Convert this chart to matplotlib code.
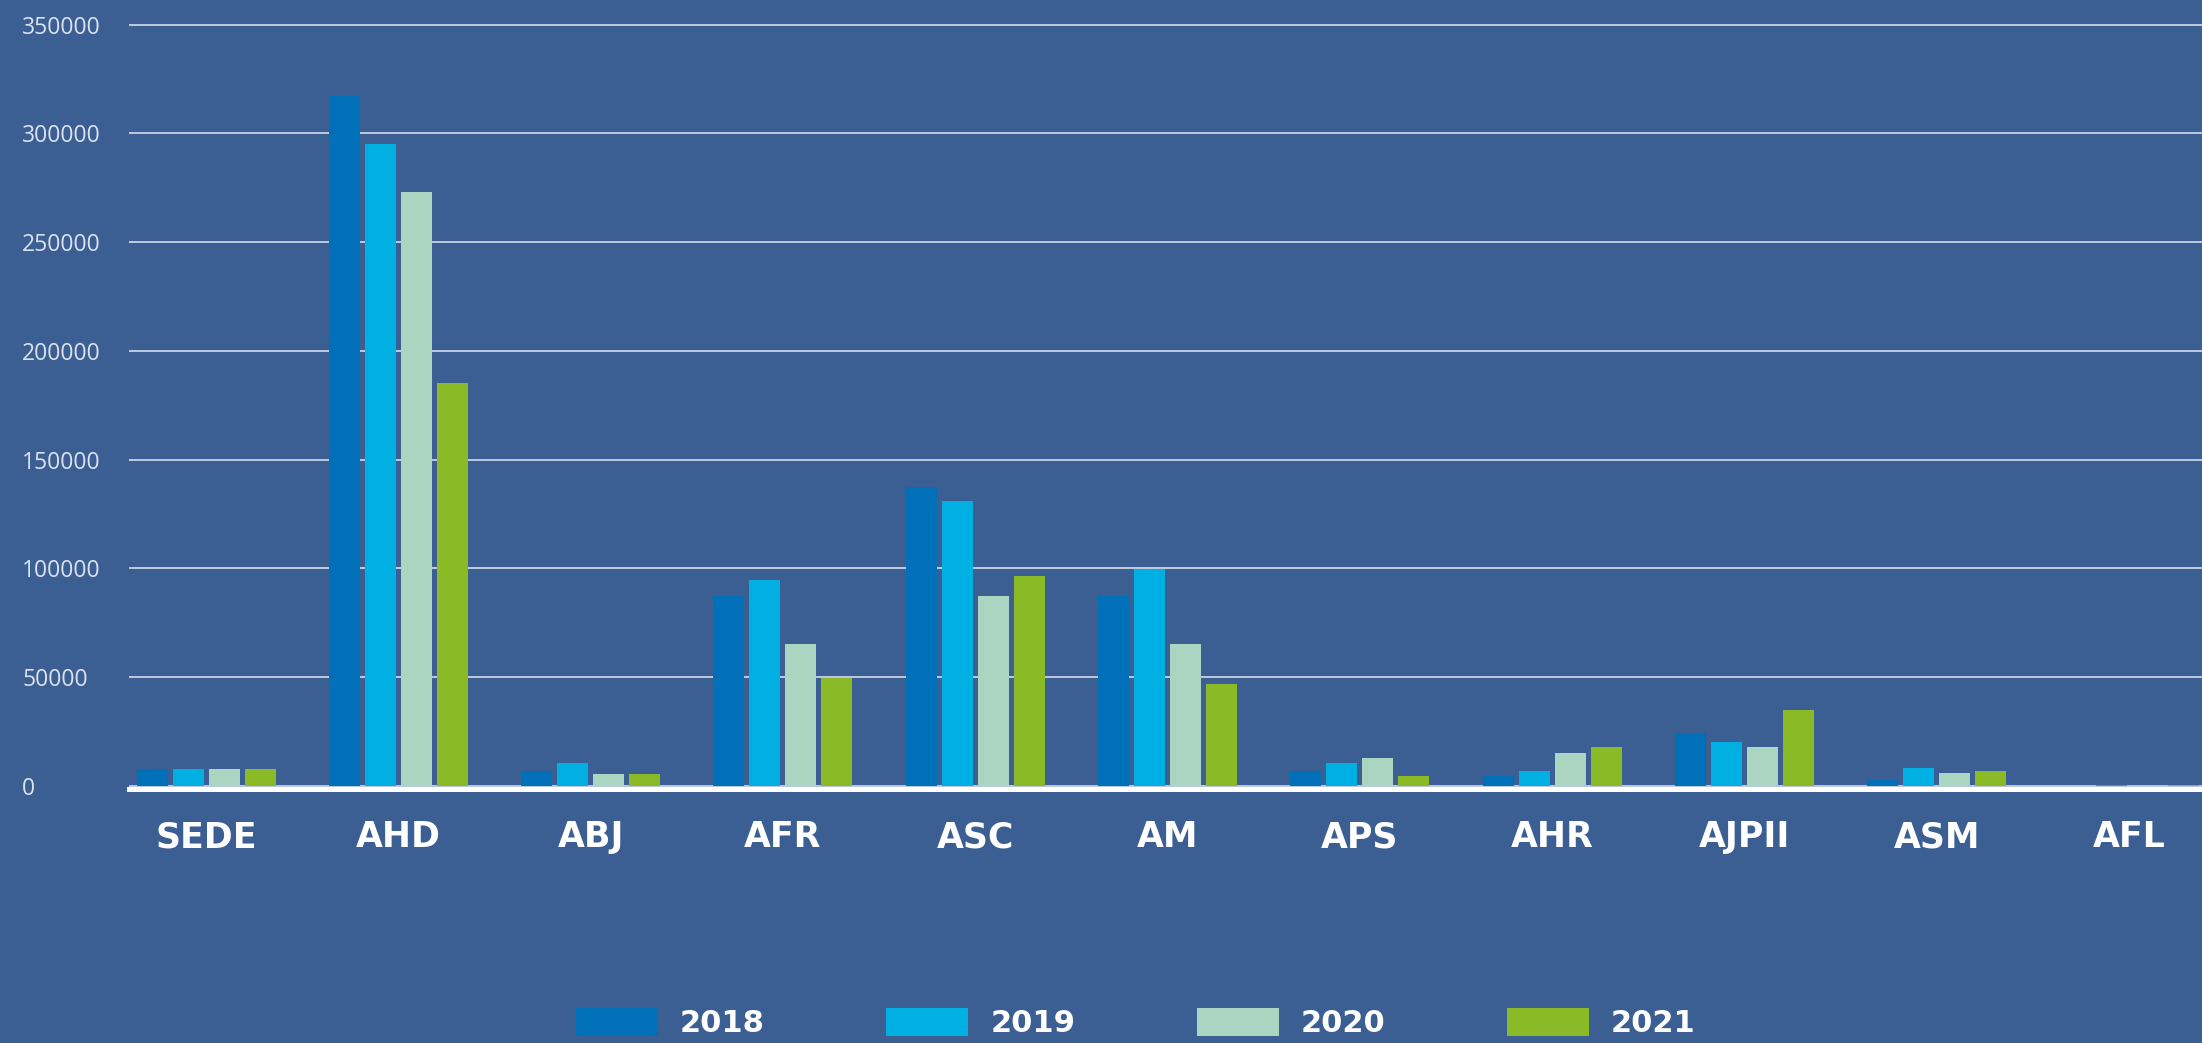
import matplotlib
matplotlib.use("Agg")
import matplotlib.pyplot as plt
import numpy as np

categories = ["SEDE", "AHD", "ABJ", "AFR", "ASC", "AM", "APS", "AHR", "AJPII", "ASM", "AFL"]
years = ["2018", "2019", "2020", "2021"]
v2018 = [7800, 317300, 6900, 87300, 137300, 87300, 6900, 4600, 24400, 2800, 200]
v2019 = [7800, 295000, 10600, 94700, 131000, 99600, 10600, 6900, 20200, 8300, 500]
v2020 = [7800, 273000, 5500, 65300, 87300, 65300, 12900, 15200, 17900, 6000, 600]
v2021 = [7800, 185200, 5500, 49500, 96500, 46900, 4600, 17900, 34900, 6900, 500]
series = [v2018, v2019, v2020, v2021]
colors = ["#0070b8", "#00b0e2", "#aad6c1", "#8aba26"]
yticks = [0, 50000, 100000, 150000, 200000, 250000, 300000, 350000]

BG = "#3b5e93"
W, H = 2202, 1043
fig = plt.figure(figsize=(W / 100, H / 100), dpi=100, facecolor=BG)

ax_left = 129 / W
ax_bottom = 1 - 788.5 / H
ax_top = 1 - 15 / H
ax = fig.add_axes([ax_left, ax_bottom, 1 - ax_left, ax_top - ax_bottom])
ax.set_facecolor(BG)

px_per_val = (786 - 24.5) / 350000.0
ylo = -2.5 / px_per_val
yhi = 350000 + 9.5 / px_per_val
ax.set_ylim(ylo, yhi)

step = 192.3
x = np.arange(len(categories))
slot = 36 / step
bw = 31 / step
for k, (vals, c, yr) in enumerate(zip(series, colors, years)):
    ax.bar(x + (k - 1.5) * slot, vals, width=bw, color=c, label=yr, zorder=3, linewidth=0)

ax.set_xlim(-(206 - 129) / step, (W - 206) / step)

ax.set_yticks(yticks)
ax.set_yticklabels([str(t) for t in yticks])
ax.yaxis.grid(True, color="#e3e8f1", linewidth=1.1, zorder=1)
ax.set_axisbelow(True)
ax.tick_params(axis="y", length=0, pad=107 * 0.72, labelcolor="#dbe2ee", labelsize=16.5)
for lab in ax.get_yticklabels():
    lab.set_horizontalalignment("left")
    lab.set_fontfamily(["Open Sans", "DejaVu Sans"])

ax.set_xticks(x)
ax.set_xticklabels(categories)
ax.tick_params(axis="x", length=0, pad=23, labelcolor="white", labelsize=25)
for lab in ax.get_xticklabels():
    lab.set_fontweight("bold")
    lab.set_fontfamily(["DejaVu Sans"])

for s in ["top", "right", "left"]:
    ax.spines[s].set_visible(False)
ax.spines["bottom"].set_color("white")
ax.spines["bottom"].set_linewidth(3.6)
ax.spines["bottom"].set_zorder(4)

leg = fig.legend(loc="center left", bbox_to_anchor=(576 / W, 1 - 1023 / H), ncol=4,
                 frameon=False, borderpad=0, borderaxespad=0,
                 prop={"family": ["DejaVu Sans"], "weight": "bold", "size": 22},
                 handlelength=2.68, handleheight=1.05, handletextpad=0.72, columnspacing=3.98)
for t in leg.get_texts():
    t.set_color("white")

fig.savefig("out.png", dpi=100, facecolor=BG)
